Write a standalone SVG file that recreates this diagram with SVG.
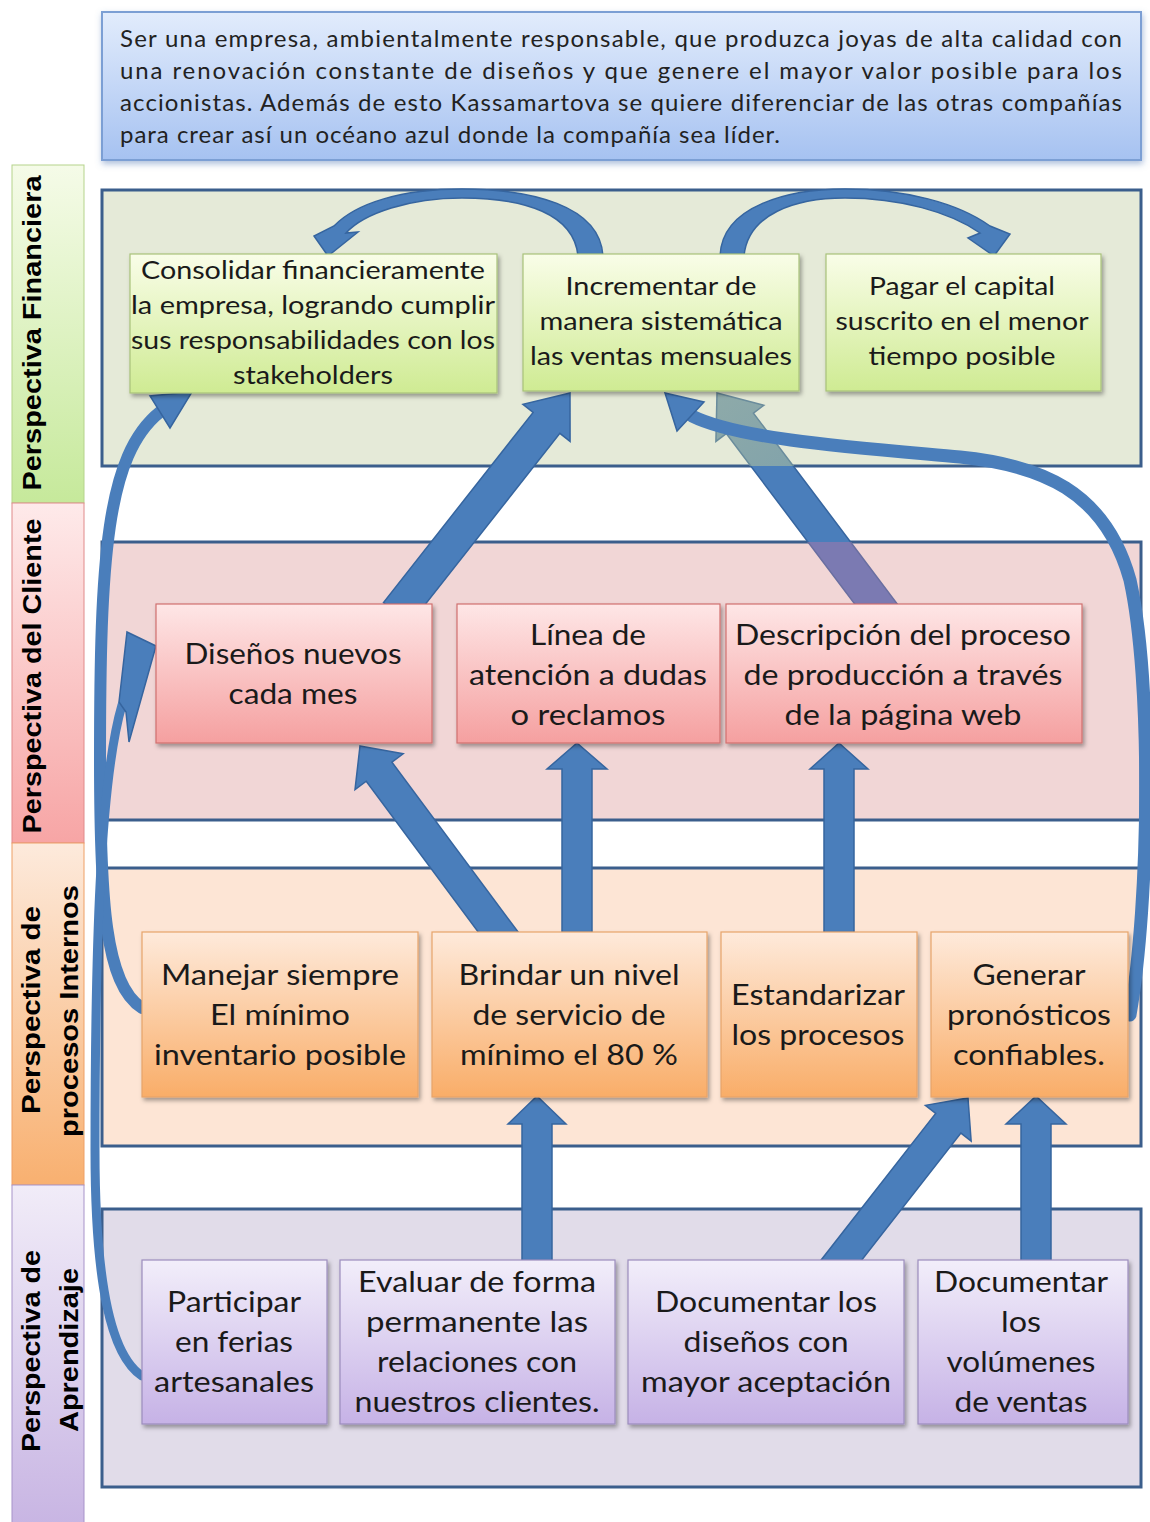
<svg xmlns="http://www.w3.org/2000/svg" width="1150" height="1522" viewBox="0 0 1150 1522">
<defs>
<linearGradient id="gMis" x1="0" y1="0" x2="0" y2="1"><stop offset="0" stop-color="#e2ecfc"/><stop offset="1" stop-color="#a6c2f1"/></linearGradient>
<linearGradient id="gFin" x1="0" y1="0" x2="0" y2="1"><stop offset="0" stop-color="#f9fde8"/><stop offset="1" stop-color="#cfeb93"/></linearGradient>
<linearGradient id="gCli" x1="0" y1="0" x2="0" y2="1"><stop offset="0" stop-color="#fee6e6"/><stop offset="1" stop-color="#f5a0a0"/></linearGradient>
<linearGradient id="gInt" x1="0" y1="0" x2="0" y2="1"><stop offset="0" stop-color="#feeadb"/><stop offset="1" stop-color="#f9ad68"/></linearGradient>
<linearGradient id="gLrn" x1="0" y1="0" x2="0" y2="1"><stop offset="0" stop-color="#f2eefa"/><stop offset="1" stop-color="#c6b2e6"/></linearGradient>
<linearGradient id="lFin" x1="0" y1="0" x2="0" y2="1"><stop offset="0" stop-color="#f5fbe8"/><stop offset="1" stop-color="#c6e99b"/></linearGradient>
<linearGradient id="lCli" x1="0" y1="0" x2="0" y2="1"><stop offset="0" stop-color="#feeaea"/><stop offset="1" stop-color="#f7a5a5"/></linearGradient>
<linearGradient id="lInt" x1="0" y1="0" x2="0" y2="1"><stop offset="0" stop-color="#fdeadc"/><stop offset="1" stop-color="#f8b070"/></linearGradient>
<linearGradient id="lLrn" x1="0" y1="0" x2="0" y2="1"><stop offset="0" stop-color="#f1ecf8"/><stop offset="1" stop-color="#c8b5e3"/></linearGradient>
<linearGradient id="gA2top" x1="0" y1="1" x2="0" y2="0"><stop offset="0" stop-color="#6f98ad"/><stop offset="1" stop-color="#8eaaa9"/></linearGradient>
<polygon id="a2shape" transform="translate(717,393) rotate(-37)" points="0,0 30,38 17,38 17,278 -17,278 -17,38 -30,38"/>
<clipPath id="cPink"><rect x="0" y="542" width="1150" height="300"/></clipPath>
<clipPath id="cWhite"><rect x="0" y="466" width="1150" height="76"/></clipPath>
<clipPath id="cGreen"><rect x="0" y="300" width="1150" height="166"/></clipPath>
<filter id="sh" x="-10%" y="-10%" width="125%" height="130%"><feDropShadow dx="2" dy="3" stdDeviation="2" flood-color="#000" flood-opacity="0.35"/></filter>
<filter id="shM" x="-5%" y="-20%" width="110%" height="150%"><feDropShadow dx="1" dy="3" stdDeviation="3" flood-color="#5a7fb8" flood-opacity="0.5"/></filter>
</defs>
<style>
.band{stroke:#3b5e8c;stroke-width:3}
.lab{stroke-width:1}
.lbl{font-family:"Liberation Sans",Arial,sans-serif;font-weight:bold;font-size:26px;fill:#000;text-anchor:middle}
.nt{font-family:Lato,"Open Sans",sans-serif;fill:#1a1a1a;text-anchor:middle}
.f25{font-size:25px}
.f28{font-size:28px}
.mt{font-family:Lato,"Open Sans",sans-serif;font-size:24px;fill:#222}
.blk{fill:#4a7ebb;stroke:#36659f;stroke-width:1.5}
.crv{fill:none;stroke:#4a7ebb;stroke-linecap:round}
.nf{fill:url(#gFin);stroke:#a8c27a;stroke-width:1.2;filter:url(#sh)}
.nc{fill:url(#gCli);stroke:#d0706f;stroke-width:1.2;filter:url(#sh)}
.ni{fill:url(#gInt);stroke:#e6a46a;stroke-width:1.2;filter:url(#sh)}
.nl{fill:url(#gLrn);stroke:#9c8dbd;stroke-width:1.2;filter:url(#sh)}
</style>

<rect width="1150" height="1522" fill="#ffffff"/>

<g id="mission">
<rect x="102" y="12" width="1039" height="148" fill="url(#gMis)" stroke="#7b9fd4" stroke-width="2" filter="url(#shM)"/>
<text class="mt" x="120" y="47" textLength="1002" lengthAdjust="spacing">Ser una empresa, ambientalmente responsable, que produzca joyas de alta calidad  con</text>
<text class="mt" x="120" y="79" textLength="1002" lengthAdjust="spacing">una renovación constante de diseños y  que genere el mayor valor posible para los</text>
<text class="mt" x="120" y="111" textLength="1002" lengthAdjust="spacing">accionistas. Además de esto Kassamartova se quiere diferenciar de las otras compañías</text>
<text class="mt" x="120" y="143" textLength="660" lengthAdjust="spacing">para crear así un océano azul donde la compañía sea líder.</text>
</g>

<g id="labels">
<g id="lbl-financiera"><rect class="lab" x="12" y="165" width="72" height="338" fill="url(#lFin)" stroke="#b5d38c"/>
<text class="lbl" transform="translate(41,333) rotate(-90)" textLength="315" lengthAdjust="spacingAndGlyphs">Perspectiva Financiera</text></g>
<g id="lbl-cliente"><rect class="lab" x="12" y="503" width="72" height="340" fill="url(#lCli)" stroke="#e08a8a"/>
<text class="lbl" transform="translate(41,676) rotate(-90)" textLength="315" lengthAdjust="spacingAndGlyphs">Perspectiva del Cliente</text></g>
<g id="lbl-procesos"><rect class="lab" x="12" y="843" width="72" height="342" fill="url(#lInt)" stroke="#eea066"/>
<text class="lbl" transform="translate(40,1010) rotate(-90)" textLength="208" lengthAdjust="spacingAndGlyphs">Perspectiva de</text>
<text class="lbl" transform="translate(78,1011) rotate(-90)" textLength="252" lengthAdjust="spacingAndGlyphs">procesos Internos</text></g>
<g id="lbl-aprendizaje"><rect class="lab" x="12" y="1185" width="72" height="340" fill="url(#lLrn)" stroke="#a793c9"/>
<text class="lbl" transform="translate(40,1351) rotate(-90)" textLength="202" lengthAdjust="spacingAndGlyphs">Perspectiva de</text>
<text class="lbl" transform="translate(78,1350) rotate(-90)" textLength="164" lengthAdjust="spacingAndGlyphs">Aprendizaje</text></g>
</g>

<g id="bands">
<rect class="band" x="102" y="190" width="1039" height="276" fill="#e5ead8"/>
<rect class="band" x="102" y="542" width="1039" height="278" fill="#f1d6d6"/>
<rect class="band" x="102" y="868" width="1039" height="278" fill="#fde5d5"/>
<rect class="band" x="102" y="1209" width="1039" height="278" fill="#e1dce9"/>
</g>

<g id="connectors">
<polygon class="blk" transform="translate(570,393) rotate(38.2)" points="0,0 30,38 17,38 17,280 -17,280 -17,38 -30,38"/>
<g id="arrow-descripcion">
<use href="#a2shape" fill="#7b7ab2" stroke="#6a6fa0" stroke-width="1.5" clip-path="url(#cPink)"/>
<use href="#a2shape" fill="#4a7ebb" stroke="#36659f" stroke-width="1.5" clip-path="url(#cWhite)"/>
<use href="#a2shape" fill="url(#gA2top)" stroke="#6a8c9c" stroke-width="1.5" clip-path="url(#cGreen)"/>
</g>
<polygon class="blk" transform="translate(360,746) rotate(-36.6)" points="0,0 30,32 16,32 16,245 -16,245 -16,32 -30,32"/>
<polygon class="blk" transform="translate(577,743)" points="0,0 30,26 15,26 15,195 -15,195 -15,26 -30,26"/>
<polygon class="blk" transform="translate(839,743)" points="0,0 29,26 15,26 15,195 -15,195 -15,26 -29,26"/>
<polygon class="blk" transform="translate(537,1096)" points="0,0 29,28 15,28 15,170 -15,170 -15,28 -29,28"/>
<polygon class="blk" transform="translate(968,1098) rotate(38)" points="0,0 29,32 16,32 16,218 -16,218 -16,32 -29,32"/>
<polygon class="blk" transform="translate(1036,1096)" points="0,0 30,28 15,28 15,170 -15,170 -15,28 -30,28"/>
<path class="blk" d="M 603,256 C 600,205 530,189 462,189 C 402,189 356,203 334,226 L 314,236 L 328,256 L 358,232 L 346,233 C 364,213 410,198 462,198 C 525,198 574,214 578,256 Z"/>
<path class="blk" d="M 720,256 C 722,205 790,189 845,189 C 905,189 958,203 990,226 L 1010,234 L 994,256 L 968,238 L 980,233 C 950,212 900,198 845,198 C 795,198 748,214 744,256 Z"/>
<path class="crv" stroke-width="12" d="M 142,1008 C 105,985 100,900 100,760 C 100,560 106,455 160,412"/>
<polygon class="blk" points="192,392 150,396 170,428"/>
<path class="crv" stroke-width="9" d="M 142,1376 C 110,1355 95,1280 95,1150 C 95,950 100,780 122,705"/>
<polygon class="blk" points="127,632 156,646 129,742 126,712 119,702"/>
<path class="crv" stroke-width="13" d="M 1130,1015 C 1150,900 1152,680 1130,580 C 1105,490 1040,465 960,457 C 860,448 740,440 692,416"/>
<polygon class="blk" points="665,393 704,402 677,431"/>
</g>

<g id="n-consolidar"><rect class="nf" x="130" y="254" width="367" height="139"/>
<text class="nt f25" x="313" y="279" textLength="344" lengthAdjust="spacingAndGlyphs">Consolidar financieramente</text>
<text class="nt f25" x="313" y="314" textLength="364" lengthAdjust="spacingAndGlyphs">la empresa, logrando cumplir</text>
<text class="nt f25" x="313" y="349" textLength="364" lengthAdjust="spacingAndGlyphs">sus responsabilidades con los</text>
<text class="nt f25" x="313" y="384" textLength="160" lengthAdjust="spacingAndGlyphs">stakeholders</text></g>
<g id="n-incrementar"><rect class="nf" x="523" y="254" width="276" height="137"/>
<text class="nt f25" x="661" y="295" textLength="191" lengthAdjust="spacingAndGlyphs">Incrementar de</text>
<text class="nt f25" x="661" y="330" textLength="243" lengthAdjust="spacingAndGlyphs">manera sistemática</text>
<text class="nt f25" x="661" y="365" textLength="262" lengthAdjust="spacingAndGlyphs">las ventas mensuales</text></g>
<g id="n-pagar"><rect class="nf" x="826" y="254" width="275" height="137"/>
<text class="nt f25" x="962" y="295" textLength="186" lengthAdjust="spacingAndGlyphs">Pagar el capital</text>
<text class="nt f25" x="962" y="330" textLength="253" lengthAdjust="spacingAndGlyphs">suscrito en el menor</text>
<text class="nt f25" x="962" y="365" textLength="187" lengthAdjust="spacingAndGlyphs">tiempo posible</text></g>

<g id="n-disenos"><rect class="nc" x="156" y="604" width="276" height="139"/>
<text class="nt f28" x="293" y="664" textLength="217" lengthAdjust="spacingAndGlyphs">Diseños nuevos</text>
<text class="nt f28" x="293" y="704" textLength="129" lengthAdjust="spacingAndGlyphs">cada mes</text></g>
<g id="n-linea"><rect class="nc" x="457" y="604" width="263" height="139"/>
<text class="nt f28" x="588" y="645" textLength="116" lengthAdjust="spacingAndGlyphs">Línea de</text>
<text class="nt f28" x="588" y="685" textLength="238" lengthAdjust="spacingAndGlyphs">atención a dudas</text>
<text class="nt f28" x="588" y="725" textLength="155" lengthAdjust="spacingAndGlyphs">o reclamos</text></g>
<g id="n-descripcion"><rect class="nc" x="726" y="604" width="356" height="139"/>
<text class="nt f28" x="903" y="645" textLength="336" lengthAdjust="spacingAndGlyphs">Descripción del proceso</text>
<text class="nt f28" x="903" y="685" textLength="319" lengthAdjust="spacingAndGlyphs">de producción a través</text>
<text class="nt f28" x="903" y="725" textLength="237" lengthAdjust="spacingAndGlyphs">de la página web</text></g>

<g id="n-manejar"><rect class="ni" x="142" y="932" width="276" height="165"/>
<text class="nt f28" x="280" y="985" textLength="238" lengthAdjust="spacingAndGlyphs">Manejar siempre</text>
<text class="nt f28" x="280" y="1025" textLength="140" lengthAdjust="spacingAndGlyphs">El mínimo</text>
<text class="nt f28" x="280" y="1065" textLength="252" lengthAdjust="spacingAndGlyphs">inventario posible</text></g>
<g id="n-brindar"><rect class="ni" x="432" y="932" width="275" height="165"/>
<text class="nt f28" x="569" y="985" textLength="221" lengthAdjust="spacingAndGlyphs">Brindar un nivel</text>
<text class="nt f28" x="569" y="1025" textLength="193" lengthAdjust="spacingAndGlyphs">de servicio de</text>
<text class="nt f28" x="569" y="1065" textLength="218" lengthAdjust="spacingAndGlyphs">mínimo el 80 %</text></g>
<g id="n-estandarizar"><rect class="ni" x="721" y="932" width="196" height="165"/>
<text class="nt f28" x="818" y="1005" textLength="174" lengthAdjust="spacingAndGlyphs">Estandarizar</text>
<text class="nt f28" x="818" y="1045" textLength="173" lengthAdjust="spacingAndGlyphs">los procesos</text></g>
<g id="n-generar"><rect class="ni" x="931" y="932" width="197" height="165"/>
<text class="nt f28" x="1029" y="985" textLength="113" lengthAdjust="spacingAndGlyphs">Generar</text>
<text class="nt f28" x="1029" y="1025" textLength="164" lengthAdjust="spacingAndGlyphs">pronósticos</text>
<text class="nt f28" x="1029" y="1065" textLength="152" lengthAdjust="spacingAndGlyphs">confiables.</text></g>

<g id="n-participar"><rect class="nl" x="142" y="1260" width="185" height="164"/>
<text class="nt f28" x="234" y="1312" textLength="134" lengthAdjust="spacingAndGlyphs">Participar</text>
<text class="nt f28" x="234" y="1352" textLength="118" lengthAdjust="spacingAndGlyphs">en ferias</text>
<text class="nt f28" x="234" y="1392" textLength="160" lengthAdjust="spacingAndGlyphs">artesanales</text></g>
<g id="n-evaluar"><rect class="nl" x="340" y="1260" width="275" height="164"/>
<text class="nt f28" x="477" y="1292" textLength="238" lengthAdjust="spacingAndGlyphs">Evaluar de forma</text>
<text class="nt f28" x="477" y="1332" textLength="222" lengthAdjust="spacingAndGlyphs">permanente las</text>
<text class="nt f28" x="477" y="1372" textLength="200" lengthAdjust="spacingAndGlyphs">relaciones con</text>
<text class="nt f28" x="477" y="1412" textLength="245" lengthAdjust="spacingAndGlyphs">nuestros clientes.</text></g>
<g id="n-documentar-disenos"><rect class="nl" x="628" y="1260" width="276" height="164"/>
<text class="nt f28" x="766" y="1312" textLength="222" lengthAdjust="spacingAndGlyphs">Documentar los</text>
<text class="nt f28" x="766" y="1352" textLength="165" lengthAdjust="spacingAndGlyphs">diseños con</text>
<text class="nt f28" x="766" y="1392" textLength="250" lengthAdjust="spacingAndGlyphs">mayor aceptación</text></g>
<g id="n-documentar-volumenes"><rect class="nl" x="918" y="1260" width="210" height="164"/>
<text class="nt f28" x="1021" y="1292" textLength="174" lengthAdjust="spacingAndGlyphs">Documentar</text>
<text class="nt f28" x="1021" y="1332" textLength="40" lengthAdjust="spacingAndGlyphs">los</text>
<text class="nt f28" x="1021" y="1372" textLength="149" lengthAdjust="spacingAndGlyphs">volúmenes</text>
<text class="nt f28" x="1021" y="1412" textLength="133" lengthAdjust="spacingAndGlyphs">de ventas</text></g>
</svg>
